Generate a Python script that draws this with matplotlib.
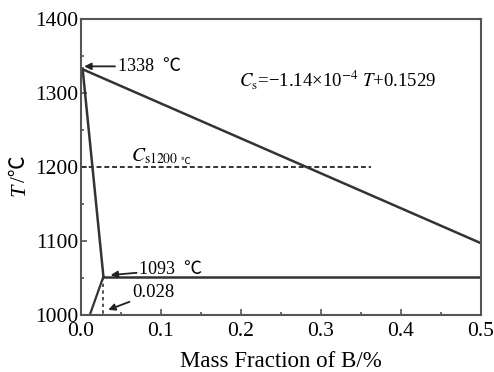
import matplotlib
matplotlib.use('Agg')
import matplotlib.pyplot as plt

plt.rcParams['font.family'] = ['Liberation Serif', 'Noto Sans CJK SC']
plt.rcParams['mathtext.fontset'] = 'stix'

# phase diagram lines (mass fraction of B, temperature)
liquidus_x = [0.0, 0.5]
liquidus_T = [1333, 1097]
solidus_x = [0.002, 0.028]
solidus_T = [1333, 1052]
eutectic_x = [0.028, 0.5]
eutectic_T = [1052, 1052]
lower_x = [0.028, 0.011]
lower_T = [1052, 1000]
cs_x = [0.028, 0.028]
cs_T = [1052, 1000]
iso_x = [0.0, 0.363]
iso_T = [1200, 1200]

xticks = [0.0, 0.1, 0.2, 0.3, 0.4, 0.5]
yticks = [1000, 1100, 1200, 1300, 1400]

fig = plt.figure(figsize=(4.94, 3.72), dpi=100)
ax = fig.add_axes([81 / 494, 57 / 372, 400 / 494, 296 / 372])

lc = '#333333'
ax.plot(liquidus_x, liquidus_T, color=lc, lw=1.8)
ax.plot(solidus_x, solidus_T, color=lc, lw=1.8)
ax.plot(eutectic_x, eutectic_T, color=lc, lw=1.8)
ax.plot(lower_x, lower_T, color=lc, lw=1.6)
ax.plot(cs_x, cs_T, color=lc, lw=1.2, ls=(0, (2, 2)))
ax.plot(iso_x, iso_T, color=lc, lw=1.4, ls=(0, (2.5, 1.5)))

ax.set_xlim(0, 0.5)
ax.set_ylim(1000, 1400)
ax.set_xticks(xticks)
ax.set_xticklabels(['%.1f' % v for v in xticks])
ax.set_yticks(yticks)
ax.set_xticks([0.05, 0.15, 0.25, 0.35, 0.45], minor=True)
ax.set_yticks([1050, 1150, 1250, 1350], minor=True)
ax.tick_params(which='both', direction='in', labelsize=15.5, colors='#555555',
               labelcolor='black', width=1.2)
ax.tick_params(which='major', length=4, pad=2)
ax.tick_params(axis='x', which='major', pad=5)
ax.tick_params(which='minor', length=2.5)
for s in ax.spines.values():
    s.set_color('#555555')
    s.set_linewidth(1.5)

ax.set_xlabel('Mass Fraction of B/%', fontsize=16.5, labelpad=7)

# y label: italic T followed by /℃
fig.text(20 / 494, (372 - 196) / 372, 'T', rotation=90, fontsize=16,
         fontstyle='italic', ha='center', va='bottom')
fig.text(20 / 494, (372 - 182) / 372, '/℃', rotation=90, fontsize=15,
         ha='center', va='bottom')

arrow = dict(arrowstyle='-|>', color='#222222', lw=1.3, mutation_scale=10,
             shrinkA=0, shrinkB=0)
ax.annotate('1338  ℃', xy=(0.004, 1336), xytext=(0.046, 1336),
            fontsize=13, va='center', ha='left', arrowprops=arrow)
ax.annotate('1093  ℃', xy=(0.037, 1054), xytext=(0.073, 1061),
            fontsize=13, va='center', ha='left', arrowprops=arrow)
ax.annotate('0.028', xy=(0.034, 1007), xytext=(0.064, 1030),
            fontsize=13.5, va='center', ha='left', arrowprops=arrow)
ax.text(0.197, 1318, r'$C_\mathrm{s}$=−1.14×10$^{-4}$ $T$+0.1529',
        fontsize=13.5, va='center', ha='left')
ax.text(0.062, 1215, r'$C_\mathrm{s1200}$', fontsize=14,
        va='center', ha='left')
ax.text(0.125, 1207, '℃', fontsize=7, va='center', ha='left')

fig.savefig('out.png', dpi=100)
